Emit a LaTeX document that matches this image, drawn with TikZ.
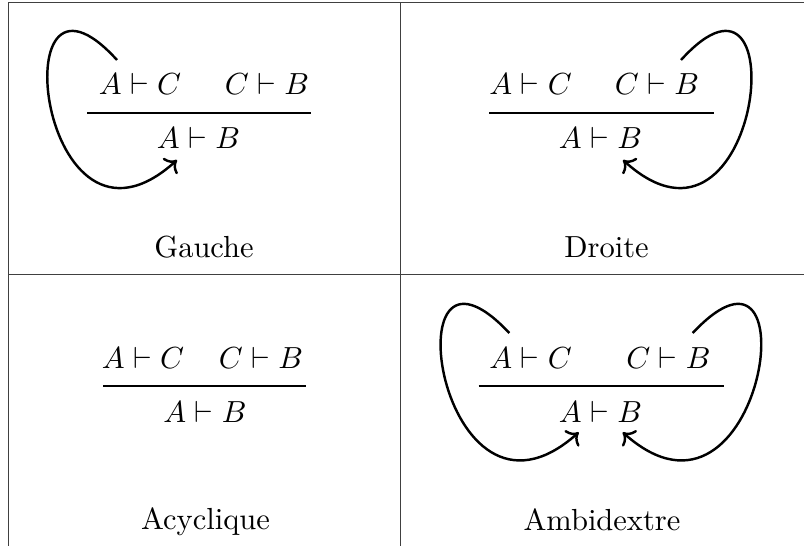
\documentclass[tikz,border=0pt]{standalone}
\usepackage{amsmath,amssymb}
\usepackage{tikz}
\usetikzlibrary{arrows.meta,calc}

\begin{document}
\begin{tikzpicture}[
    x=0.3279pt, y=-0.3279pt,
    grid/.style={line width=0.5pt, black!75},
    seq/.style={inner sep=0pt, anchor=base},
    lbl/.style={inner sep=0pt, anchor=base},
    bar/.style={line width=0.6pt},
    loop/.style={thick, ->}
  ]
    \useasboundingbox (0,0) rectangle (804,546);
    % table
    \draw[grid] (8.5,546) -- (8.5,2.5) -- (804,2.5);
    \draw[grid] (8.5,274.5) -- (804,274.5);
    \draw[grid] (400.5,2.5) -- (400.5,546);
    % Gauche
    \begin{scope}
      \node[seq] (g1) at (140,95) {$A \vdash C$};
      \node[seq] (g2) at (267,95) {$C \vdash B$};
      \draw[bar] (87,112.7) -- (311,112.7);
      \node[seq] (g3) at (198.5,149) {$A \vdash B$};
      \node[lbl] (gl) at (204,257) {Gauche};
      \coordinate (gs) at (117,60);
      \coordinate (ge) at (177,160);
      \draw[loop] (gs) .. controls ($(gs)+(-118,-130)$) and ($(ge)+(-138,125)$) .. (ge);
    \end{scope}
    % Droite
    \begin{scope}
      \node[seq] (d1) at (530.5,95) {$A \vdash C$};
      \node[seq] (d2) at (657,95) {$C \vdash B$};
      \draw[bar] (489.3,112.7) -- (713.7,112.7);
      \node[seq] (d3) at (600.5,149) {$A \vdash B$};
      \node[lbl] (dl) at (606.5,257) {Droite};
      \coordinate (ds) at (681,60);
      \coordinate (de) at (623,160);
      \draw[loop] (ds) .. controls ($(ds)+(118,-130)$) and ($(de)+(138,125)$) .. (de);
    \end{scope}
    % Acyclique
    \begin{scope}[shift={(0,273)}]
      \node[seq] (a1) at (143,95) {$A \vdash C$};
      \node[seq] (a2) at (261,95) {$C \vdash B$};
      \draw[bar] (103,112.7) -- (306,112.7);
      \node[seq] (a3) at (205,149) {$A \vdash B$};
      \node[lbl] (al) at (205.5,256.5) {Acyclique};
    \end{scope}
    % Ambidextre
    \begin{scope}[shift={(0,273)}]
      \node[seq] (b1) at (530.5,95) {$A \vdash C$};
      \node[seq] (b2) at (668.5,95) {$C \vdash B$};
      \draw[bar] (478.7,112.7) -- (723.7,112.7);
      \node[seq] (b3) at (600.5,149) {$A \vdash B$};
      \node[lbl] (bl) at (602,257) {Ambidextre};
      \coordinate (bs1) at (509.3,60);
      \coordinate (be1) at (578.7,159.3);
      \coordinate (bs2) at (692.7,60);
      \coordinate (be2) at (622.7,159.3);
      \draw[loop] (bs1) .. controls ($(bs1)+(-122,-130)$) and ($(be1)+(-140,125)$) .. (be1);
      \draw[loop] (bs2) .. controls ($(bs2)+(122,-130)$) and ($(be2)+(140,125)$) .. (be2);
    \end{scope}
  \end{tikzpicture}
\end{document}
